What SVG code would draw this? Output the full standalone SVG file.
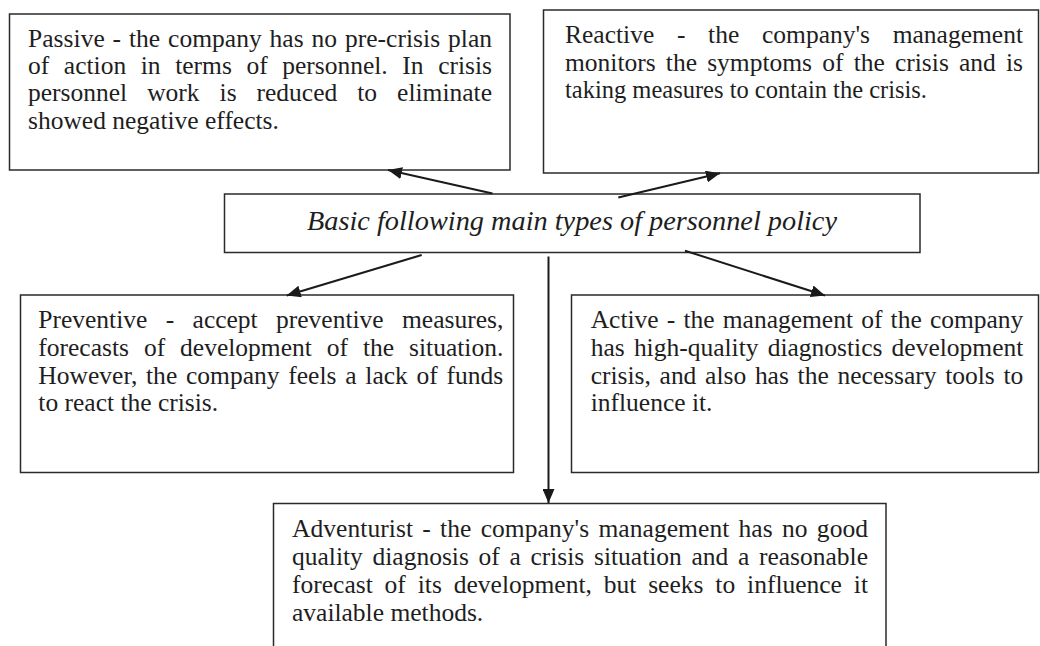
<svg xmlns="http://www.w3.org/2000/svg" width="1040" height="646" viewBox="0 0 1040 646">
<defs>
<style>
.box{fill:#fff;stroke:#2a2a2a;stroke-width:1.5}
.t{font-family:"Liberation Serif","Times New Roman",serif;font-size:25.5px;fill:#1e1e1e}
.c{font-family:"Liberation Serif","Times New Roman",serif;font-size:28px;font-style:italic;fill:#1e1e1e}
.ln{stroke:#1a1a1a;stroke-width:2;fill:none;marker-end:url(#ah)}
</style>
<marker id="ah" viewBox="0 0 14 12" refX="14" refY="6" markerWidth="14" markerHeight="12" markerUnits="userSpaceOnUse" orient="auto">
<path d="M0,0 L14,6 L0,12 z" fill="#1a1a1a"/>
</marker>
</defs>
<rect width="1040" height="646" fill="#fff"/>

<g id="passive">
<rect class="box" x="9.5" y="14" width="500.5" height="156"/>
<text class="t" x="28" y="46.5" word-spacing="1.4" textLength="464" lengthAdjust="spacing">Passive - the company has no pre-crisis plan</text>
<text class="t" x="28" y="73.9" word-spacing="8.2" textLength="464" lengthAdjust="spacing">of action in terms of personnel. In crisis</text>
<text class="t" x="28" y="101.3" word-spacing="13.6" textLength="464" lengthAdjust="spacing">personnel work is reduced to eliminate</text>
<text class="t" x="28" y="128.7">showed negative effects.</text>
</g>

<g id="reactive">
<rect class="box" x="543.5" y="10" width="495" height="163"/>
<text class="t" x="565" y="43.3" word-spacing="16.3" textLength="458" lengthAdjust="spacing">Reactive - the company's management</text>
<text class="t" x="565" y="70.7" word-spacing="3.8" textLength="458" lengthAdjust="spacing">monitors the symptoms of the crisis and is</text>
<text class="t" x="565" y="98.1" textLength="362" lengthAdjust="spacingAndGlyphs">taking measures to contain the crisis.</text>
</g>

<g id="center">
<rect class="box" x="224.5" y="194" width="695.5" height="58.5"/>
<text class="c" x="307" y="230" textLength="530" lengthAdjust="spacingAndGlyphs">Basic following main types of personnel policy</text>
</g>

<g id="preventive">
<rect class="box" x="20.5" y="295" width="493" height="177.5"/>
<text class="t" x="38.3" y="328.3" word-spacing="12" textLength="465" lengthAdjust="spacing">Preventive - accept preventive measures,</text>
<text class="t" x="38.3" y="355.9" word-spacing="8.6" textLength="465" lengthAdjust="spacing">forecasts of development of the situation.</text>
<text class="t" x="38.3" y="383.5" word-spacing="2.3" textLength="465" lengthAdjust="spacing">However, the company feels a lack of funds</text>
<text class="t" x="38.3" y="411.1">to react the crisis.</text>
</g>

<g id="active">
<rect class="box" x="571.5" y="295" width="467" height="177.5"/>
<text class="t" x="590.7" y="328.3" word-spacing="1.8" textLength="432.6" lengthAdjust="spacing">Active - the management of the company</text>
<text class="t" x="590.7" y="355.9" word-spacing="2.8" textLength="432.6" lengthAdjust="spacing">has high-quality diagnostics development</text>
<text class="t" x="590.7" y="383.5" word-spacing="2.4" textLength="432.6" lengthAdjust="spacing">crisis, and also has the necessary tools to</text>
<text class="t" x="590.7" y="411.1">influence it.</text>
</g>

<g id="adventurist">
<rect class="box" x="273.5" y="503.5" width="612.5" height="160"/>
<text class="t" x="292" y="537" word-spacing="2.8" textLength="576" lengthAdjust="spacing">Adventurist - the company's management has no good</text>
<text class="t" x="292" y="565" word-spacing="3.3" textLength="576" lengthAdjust="spacing">quality diagnosis of a crisis situation and a reasonable</text>
<text class="t" x="292" y="593" word-spacing="5.5" textLength="576" lengthAdjust="spacing">forecast of its development, but seeks to influence it</text>
<text class="t" x="292" y="621">available methods.</text>
</g>

<g id="connectors">
<line class="ln" x1="492.5" y1="193.5" x2="388" y2="170"/>
<line class="ln" x1="618.3" y1="197.5" x2="720" y2="173.3"/>
<line class="ln" x1="421.7" y1="255" x2="286.7" y2="295.5"/>
<line class="ln" x1="685" y1="250.7" x2="825" y2="295.5"/>
<line class="ln" x1="548.5" y1="256.5" x2="548.5" y2="503"/>
</g>
</svg>
